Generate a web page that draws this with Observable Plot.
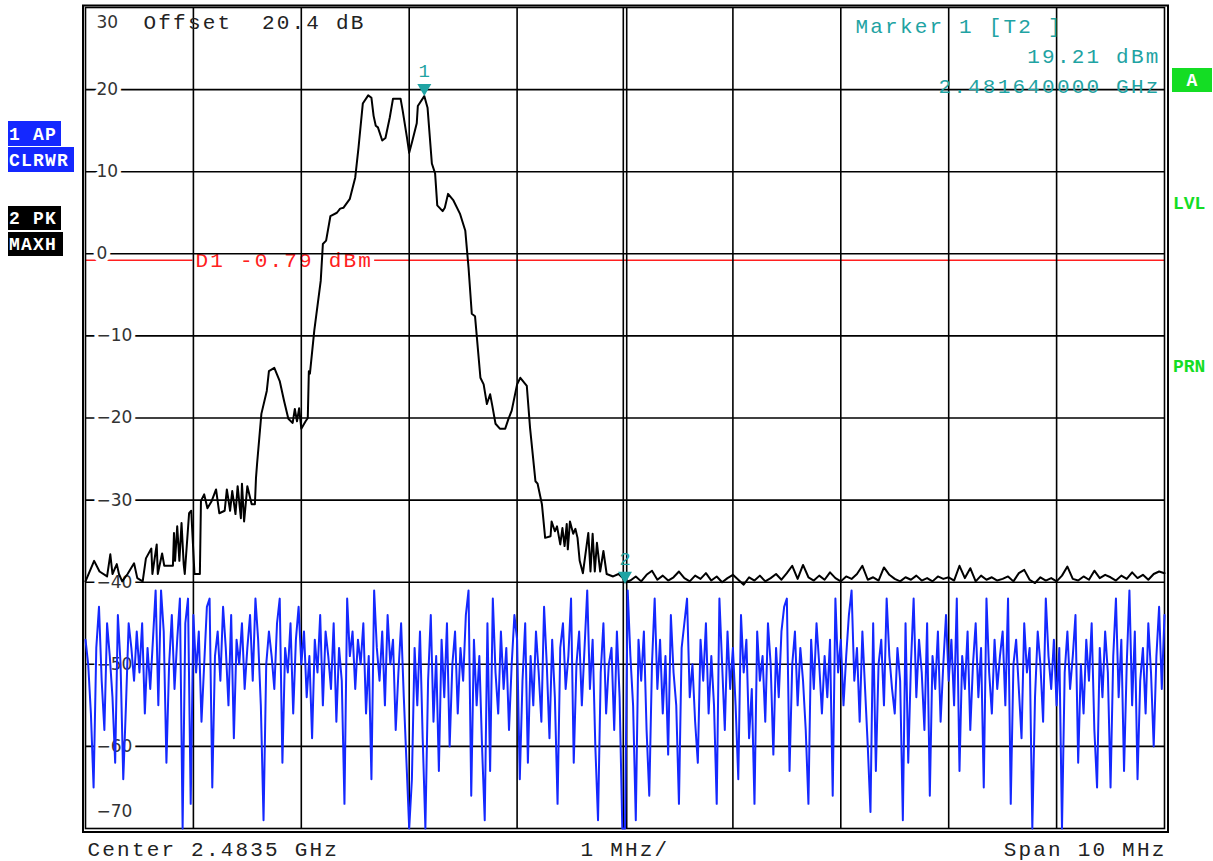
<!DOCTYPE html>
<html>
<head>
<meta charset="utf-8">
<script src="https://cdn.jsdelivr.net/npm/d3@7"></script>
<script src="https://cdn.jsdelivr.net/npm/@observablehq/plot@0.6"></script>
<style>
  html, body { margin: 0; padding: 0; background: #fff; }
  svg text { white-space: pre; }
  .mono text { letter-spacing: 2.2px; }
</style>
</head>
<body>
<div id="chart"></div>
<script>
// ---------- DATA ----------
// frequency axis: offset in MHz from the start of the span (Center 2.4835 GHz, Span 10 MHz)
const spanMHz = 10;
const gridFreqs = [1, 2, 3, 4, 6, 7, 8, 9];
const centerFreq = 5;
const levelTicks = [30, 20, 10, 0, -10, -20, -30, -40, -50, -60, -70];

// Trace 2 (PK MAXH) – black
const maxhFreq = [0.00,0.08,0.13,0.20,0.23,0.25,0.29,0.31,0.34,0.39,0.45,0.48,0.53,0.56,0.61,0.62,0.66,0.67,0.71,0.73,
  0.81,0.82,0.83,0.85,0.87,0.89,0.91,0.92,0.96,0.98,1.01,1.06,1.07,1.10,1.13,1.17,1.21,1.24,1.29,1.31,
  1.34,1.36,1.39,1.41,1.44,1.45,1.47,1.50,1.54,1.57,1.58,1.59,1.63,1.68,1.70,1.75,1.80,1.84,1.88,1.92,
  1.94,1.96,1.98,2.00,2.04,2.06,2.07,2.08,2.12,2.18,2.20,2.23,2.27,2.33,2.36,2.39,2.45,2.50,2.53,2.57,
  2.62,2.65,2.67,2.69,2.71,2.75,2.78,2.82,2.85,2.92,2.94,2.98,3.00,3.03,3.07,3.08,3.14,3.17,3.21,3.24,
  3.26,3.31,3.33,3.36,3.41,3.47,3.52,3.55,3.58,3.61,3.66,3.69,3.72,3.75,3.77,3.80,3.84,3.89,3.92,3.95,
  4.00,4.03,4.09,4.12,4.17,4.19,4.23,4.26,4.31,4.32,4.35,4.37,4.40,4.42,4.44,4.46,4.47,4.49,4.52,4.54,
  4.56,4.58,4.61,4.66,4.68,4.70,4.72,4.74,4.77,4.80,4.83,4.89,4.94,4.98];
const maxhLevel = [-39.9,-37.4,-38.7,-39.3,-36.6,-39.0,-37.8,-39.0,-39.9,-39.0,-37.7,-39.5,-39.9,-37.1,-35.9,-39.0,-35.4,-39.0,-36.5,-38.0,
  -38.0,-34.0,-37.4,-33.2,-37.4,-32.8,-37.8,-39.0,-31.6,-31.3,-39.0,-39.0,-30.1,-29.3,-31.0,-30.1,-28.7,-31.6,-31.3,-28.7,
  -31.3,-28.9,-31.7,-28.3,-32.2,-28.0,-32.6,-28.3,-30.5,-30.5,-27.3,-25.6,-19.5,-16.7,-14.3,-13.9,-15.5,-17.9,-20.1,-20.6,
  -18.9,-20.4,-18.8,-21.3,-20.4,-20.0,-14.3,-14.6,-9.4,-3.3,1.2,1.6,4.6,5.0,5.5,5.6,6.7,9.3,12.9,18.3,
  19.3,19.0,16.8,15.6,15.4,13.8,14.1,16.6,18.9,18.9,17.4,14.1,12.3,13.8,15.9,18.0,19.21,17.8,11.0,9.8,
  5.9,5.2,5.6,7.3,6.5,4.9,2.8,-1.7,-7.3,-7.6,-15.1,-15.9,-18.3,-17.1,-18.5,-20.7,-21.3,-21.3,-20.1,-19.1,
  -15.9,-15.1,-16.1,-21.2,-27.7,-28.0,-30.5,-34.6,-34.4,-32.6,-33.8,-33.2,-35.4,-33.4,-35.6,-32.9,-36.0,-32.6,-34.1,-33.5,
  -34.6,-37.4,-38.9,-34.0,-38.7,-34.1,-38.7,-35.2,-38.7,-36.2,-39.0,-39.3,-39.0,-39.5];
// upper half of the span: noise floor, one reading per 0.05 MHz from 5.00 MHz
const floorStart = 5.0, floorStep = 0.05;
const floorLevel = [-40.0,-39.8,-39.3,-39.9,-39.1,-38.6,-39.7,-39.2,-39.8,-39.4,
  -38.7,-39.5,-39.9,-39.2,-39.6,-38.9,-39.8,-39.3,-40.0,-39.5,
  -39.1,-39.7,-40.3,-39.4,-39.8,-39.2,-39.9,-39.5,-39.0,-39.7,
  -38.9,-38.0,-39.6,-37.9,-39.4,-39.8,-39.2,-39.7,-38.8,-39.5,
  -39.9,-39.3,-39.6,-39.0,-38.0,-39.7,-39.4,-39.8,-38.2,-39.1,
  -39.6,-39.9,-39.4,-39.7,-39.2,-39.8,-39.5,-39.9,-39.3,-39.6,
  -39.4,-39.8,-38.0,-39.5,-38.3,-39.9,-39.2,-39.7,-39.4,-39.8,
  -39.6,-39.3,-39.9,-38.9,-38.5,-39.7,-40.1,-39.4,-39.8,-39.5,
  -39.9,-39.2,-38.1,-39.6,-39.8,-39.3,-39.7,-38.6,-39.5,-39.1,
  -39.4,-39.8,-39.2,-39.6,-38.8,-39.5,-39.1,-39.7,-39.0,-38.7,
  -38.9];

// Trace 1 (AP CLRWR) – blue, one reading per 0.025 MHz
const clrwrStep = 0.025;
const clrwrLevel = [
  -47,-50,-56,-65,-48,-43,-52,-58,-45,-49,-54,-62,-44,-50,-64,-55,-45,-48,-52,-46,
  -51,-45,-56,-48,-53,-47,-41,-55,-41,-46,-62,-50,-44,-53,-47,-42,-70,-45,-42,-67,
  -44,-51,-46,-57,-50,-43,-42,-65,-49,-46,-52,-43,-48,-55,-44,-59,-47,-50,-45,-53,
  -48,-44,-52,-42,-47,-55,-69,-50,-46,-49,-53,-45,-42,-62,-48,-51,-45,-56,-47,-43,
  -50,-46,-54,-49,-59,-47,-51,-44,-55,-46,-49,-53,-45,-57,-48,-52,-67,-42,-49,-46,
  -53,-47,-50,-45,-56,-49,-64,-41,-48,-52,-46,-55,-44,-50,-47,-58,-51,-45,-54,-62,
  -70,-64,-48,-55,-46,-59,-70,-52,-44,-57,-49,-63,-47,-54,-45,-60,-50,-46,-56,-48,
  -52,-44,-41,-66,-47,-55,-49,-60,-69,-45,-63,-42,-51,-56,-46,-53,-48,-58,-50,-44,
  -47,-64,-52,-45,-62,-49,-55,-46,-51,-57,-43,-50,-59,-47,-54,-67,-48,-45,-53,-49,
  -42,-62,-50,-46,-55,-48,-41,-53,-47,-60,-69,-51,-45,-56,-50,-48,-58,-46,-54,-70,
  -70,-41,-49,-55,-69,-47,-52,-46,-58,-66,-50,-42,-53,-47,-56,-49,-61,-44,-51,-55,
  -67,-48,-45,-42,-54,-50,-57,-62,-47,-52,-45,-56,-49,-55,-67,-42,-50,-58,-46,-53,
  -48,-55,-64,-44,-51,-47,-59,-53,-67,-46,-52,-49,-57,-45,-50,-61,-48,-54,-46,-43,
  -42,-63,-50,-46,-55,-48,-52,-58,-67,-47,-53,-45,-50,-56,-49,-54,-47,-66,-42,-51,
  -47,-55,-49,-44,-41,-52,-48,-57,-46,-53,-60,-68,-45,-63,-50,-47,-55,-42,-49,-53,
  -56,-48,-52,-69,-45,-62,-50,-42,-54,-47,-51,-58,-45,-66,-49,-53,-46,-57,-50,-44,
  -52,-47,-55,-42,-63,-49,-53,-46,-58,-50,-45,-54,-48,-65,-42,-51,-56,-47,-53,-49,
  -46,-55,-42,-67,-50,-47,-53,-59,-45,-51,-48,-70,-54,-46,-50,-57,-42,-49,-53,-47,
  -55,-48,-70,-51,-46,-53,-49,-44,-62,-50,-56,-47,-52,-45,-58,-65,-48,-54,-46,-51,
  -65,-49,-42,-54,-47,-63,-50,-41,-55,-46,-64,-52,-48,-56,-45,-51,-60,-49,-43,-53,
  -44];

// markers
const markerNames = ["1", "2"];
const markerFreq = [3.14, 5.0];
const markerLevel = [19.21, -40.2];

// display line
const d1Level = -0.79;
const d1Label = "D1 -0.79 dBm";

// annotation texts
const offsetText = "Offset  20.4 dB";
const markerInfo = ["Marker 1 [T2 ]", "19.21 dBm", "2.481640000 GHz"];
const bottomTexts = ["Center 2.4835 GHz", "1 MHz/", "Span 10 MHz"];
const traceBadges = [["1 AP", "CLRWR"], ["2 PK", "MAXH"]];
const rightBadges = ["A", "LVL", "PRN"];

// ---------- BUILD TABLES ----------
const maxh = maxhFreq.map((f, i) => ({f, v: maxhLevel[i]}))
  .concat(floorLevel.map((v, i) => ({f: floorStart + i * floorStep, v})));
const clrwr = clrwrLevel.map((v, i) => ({f: i * clrwrStep, v}));
const markers = markerNames.map((n, i) => ({n, f: markerFreq[i], v: markerLevel[i]}));

const mono = "'Courier New', 'Liberation Mono', monospace";
const teal = "#1fa3a3";
const fmtTick = d => d < 0 ? "\u2212" + Math.abs(d) : String(d);
const downTriangle = {draw(ctx) { ctx.moveTo(0, 0); ctx.lineTo(-7, -12); ctx.lineTo(7, -12); ctx.closePath(); }};
const monoText = {fontFamily: mono, fontSize: 21, lineAnchor: "middle", className: "mono"};

const chart = Plot.plot({
  width: 1213, height: 861,
  marginLeft: 85, marginRight: 49, marginTop: 7, marginBottom: 33,
  x: {domain: [0, spanMHz], axis: null},
  y: {domain: [-70, 30], axis: null},
  style: {background: "#fff", overflow: "visible"},
  marks: [
    // display line D1
    Plot.ruleY([d1Level], {stroke: "#ff2020", strokeWidth: 1.5}),
    Plot.text([d1Level], {y: d => d, frameAnchor: "left", dx: 110, textAnchor: "start", text: () => d1Label,
      fill: "#ff2020", fontFamily: mono, fontSize: 21, lineAnchor: "middle", className: "mono d1label"}),
    // grid
    Plot.ruleX(gridFreqs, {stroke: "#000", strokeWidth: 1.6}),
    Plot.ruleX([centerFreq], {stroke: "#000", strokeWidth: 1.6, dx: -1.7}),
    Plot.ruleX([centerFreq], {stroke: "#000", strokeWidth: 1.6, dx: 1.7}),
    Plot.ruleY(levelTicks.filter(d => d < 30 && d > -70), {stroke: "#000", strokeWidth: 1.6}),
    // level labels
    Plot.text(levelTicks.filter(d => d < 30 && d > -70), {y: d => d, frameAnchor: "left", dx: 11, textAnchor: "start",
      text: fmtTick, fill: "#333", stroke: "#fff", strokeWidth: 8, paintOrder: "stroke",
      fontFamily: "'DejaVu Sans', sans-serif", fontSize: 17}),
    Plot.text([30], {y: d => d, frameAnchor: "left", dx: 11, dy: 15, textAnchor: "start", text: fmtTick,
      fill: "#333", fontFamily: "'DejaVu Sans', sans-serif", fontSize: 17}),
    Plot.text([-70], {y: d => d, frameAnchor: "left", dx: 11, dy: -17, textAnchor: "start", text: fmtTick,
      fill: "#333", fontFamily: "'DejaVu Sans', sans-serif", fontSize: 17}),
    // frames
    Plot.frame({stroke: "#000", strokeWidth: 1.6}),
    Plot.frame({stroke: "#000", strokeWidth: 2, insetLeft: -2.5, insetTop: -2, insetRight: -3.5, insetBottom: -3.5}),
    // traces
    Plot.line(clrwr, {x: "f", y: "v", stroke: "#1428ff", strokeWidth: 2}),
    Plot.line(maxh, {x: "f", y: "v", stroke: "#000", strokeWidth: 2}),
    // markers
    Plot.dot(markers, {x: "f", y: "v", symbol: downTriangle, fill: teal, stroke: "none", r: 7}),
    Plot.text(markers, {x: "f", y: "v", text: "n", dy: -25, fill: teal, fontFamily: mono, fontSize: 19}),
    // header texts
    Plot.text([offsetText], {frameAnchor: "top-left", dx: 58, dy: 15, textAnchor: "start", text: d => d,
      fill: "#222", ...monoText}),
    Plot.text([markerInfo[0]], {frameAnchor: "top-right", dx: -309, dy: 19, textAnchor: "start", text: d => d,
      fill: teal, ...monoText}),
    Plot.text([markerInfo[1]], {frameAnchor: "top-right", dx: -4, dy: 49, textAnchor: "end", text: d => d,
      fill: teal, ...monoText}),
    Plot.text([markerInfo[2]], {frameAnchor: "top-right", dx: -4, dy: 79, textAnchor: "end", text: d => d,
      fill: teal, ...monoText}),
    // bottom texts
    Plot.text([bottomTexts[0]], {frameAnchor: "bottom-left", dx: 2, dy: 21, textAnchor: "start", text: d => d, fill: "#222", ...monoText}),
    Plot.text([bottomTexts[1]], {frameAnchor: "bottom", dx: 0, dy: 21, textAnchor: "middle", text: d => d, fill: "#222", ...monoText}),
    Plot.text([bottomTexts[2]], {frameAnchor: "bottom-right", dx: 2, dy: 21, textAnchor: "end", text: d => d, fill: "#222", ...monoText})
  ]
});
document.getElementById("chart").appendChild(chart);

// white box behind D1 label so the red line stops at it
d3.select(chart).selectAll(".d1label text").each(function() {
  const b = this.getBBox();
  const ctm = this.getAttribute("transform");
  d3.select(this.parentNode).insert("rect", () => this)
    .attr("transform", ctm)
    .attr("x", b.x - 3).attr("y", b.y + 2).attr("width", b.width + 4).attr("height", b.height - 4)
    .attr("fill", "#fff");
});

// side badges
const svg = d3.select(chart);
const badgeLayout = [
  [{x: 8, y: 121, w: 53, h: 25}, {x: 8, y: 147, w: 66, h: 25}],
  [{x: 8, y: 206, w: 53, h: 24}, {x: 8, y: 232, w: 55, h: 24}]
];
const badgeColors = ["#1428ff", "#000"];
traceBadges.forEach((pair, k) => pair.forEach((label, j) => {
  const L = badgeLayout[k][j];
  svg.append("rect").attr("x", L.x).attr("y", L.y).attr("width", L.w).attr("height", L.h).attr("fill", badgeColors[k]);
  svg.append("text").attr("x", L.x + 1).attr("y", L.y + L.h / 2).attr("dy", "0.35em").attr("text-anchor", "start")
    .attr("fill", "#fff").attr("font-family", mono).attr("font-weight", "bold").attr("font-size", 18)
    .style("letter-spacing", "1.2px").text(label);
}));
const green = "#14dd24";
svg.append("rect").attr("x", 1172).attr("y", 68).attr("width", 40).attr("height", 24).attr("fill", green);
svg.append("text").attr("x", 1192).attr("y", 80).attr("dy", "0.35em").attr("text-anchor", "middle")
  .attr("fill", "#fff").attr("font-family", mono).attr("font-weight", "bold").attr("font-size", 18).text(rightBadges[0]);
[[rightBadges[1], 203], [rightBadges[2], 366]].forEach(([t, y]) => {
  svg.append("text").attr("x", 1173).attr("y", y).attr("dy", "0.35em").attr("text-anchor", "start")
    .attr("fill", green).attr("font-family", mono).attr("font-weight", "bold").attr("font-size", 18).text(t);
});
</script>
</body>
</html>
